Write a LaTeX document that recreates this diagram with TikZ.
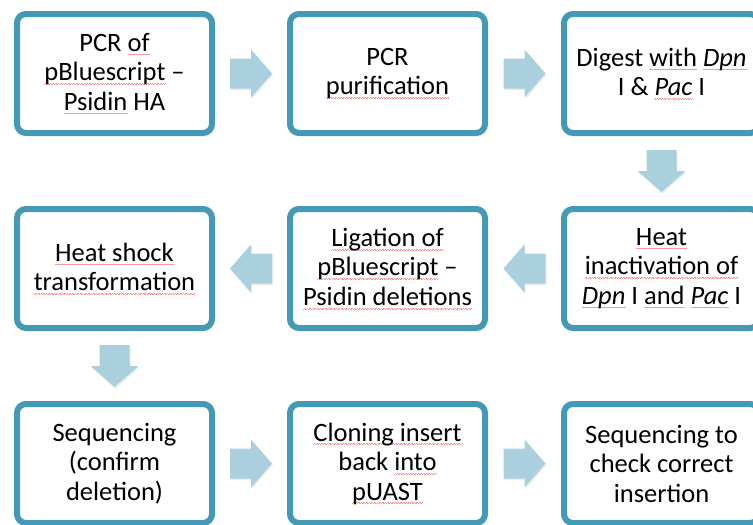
\documentclass[tikz,border=0pt]{standalone}
\usepackage{fontspec}
\setmainfont{Carlito}
\usetikzlibrary{shadows,calc}
\definecolor{boxline}{RGB}{68,153,180}
\definecolor{arrowfill}{RGB}{170,207,221}
\newcommand\spell[1]{\setbox0=\hbox{#1}%
	\rlap{\color{red!40}\hbox to \wd0{\xleaders\hbox{\rule[-3.5pt]{0.8pt}{0.4pt}\rule[-2.8pt]{0.8pt}{0.4pt}}\hfill}}\box0\relax}
\tikzset{
	stepbox/.style={draw=boxline, line width=6pt, rounded corners=9pt, fill=white,
		minimum width=195pt, minimum height=119pt, align=center,
		font=\fontsize{26.5}{29.5}\selectfont,
		drop shadow={shadow xshift=1.5pt, shadow yshift=-2.5pt, opacity=0.2}},
	blockarrow/.pic={\fill[arrowfill, drop shadow={shadow xshift=1pt, shadow yshift=-1.5pt, opacity=0.15}]
		(-21,-15) -- (0,-15) -- (0,-24) -- (21,0) -- (0,24) -- (0,15) -- (-21,15) -- cycle;}
}
\begin{document}
\begin{tikzpicture}[x=1pt,y=1pt]
	\useasboundingbox (0,0) rectangle (753,-525);
	\node[stepbox] (pcr) at (114.5,-73.5) {PCR \spell{of}\\\spell{pBluescript} --\\\spell{Psidin} HA};
	\node[stepbox] (pur) at (387.5,-73.5) {PCR\\\spell{purification}};
	\node[stepbox] (dig) at (661.5,-73.5) {Digest \spell{with} \spell{\emph{Dpn}}\\I \& \spell{\emph{Pac}} I};
	\node[stepbox] (heat) at (661.5,-268.5) {\spell{Heat}\\\spell{inactivation of}\\\spell{\emph{Dpn}} I \spell{and} \spell{\emph{Pac}} I};
	\node[stepbox] (lig) at (387.5,-268.5) {\spell{Ligation of}\\\spell{pBluescript} --\\\spell{Psidin deletions}};
	\node[stepbox] (shock) at (114.5,-268.5) {\spell{Heat shock}\\\spell{transformation}};
	\node[stepbox] (seq) at (114.5,-463.5) {Sequencing\\(confirm\\deletion)};
	\node[stepbox] (clone) at (387.5,-463.5) {\spell{Cloning insert}\\back \spell{into}\\\spell{pUAST}};
	\node[stepbox] (check) at (661.5,-463.5) {Sequencing to\\check correct\\insertion};
	\pic at ($(pcr.east)!0.5!(pur.west)$) {blockarrow};
	\pic at ($(pur.east)!0.5!(dig.west)$) {blockarrow};
	\pic[rotate=-90] at ($(dig.south)!0.5!(heat.north)$) {blockarrow};
	\pic[rotate=180] at ($(heat.west)!0.5!(lig.east)$) {blockarrow};
	\pic[rotate=180] at ($(lig.west)!0.5!(shock.east)$) {blockarrow};
	\pic[rotate=-90] at ($(shock.south)!0.5!(seq.north)$) {blockarrow};
	\pic at ($(seq.east)!0.5!(clone.west)$) {blockarrow};
	\pic at ($(clone.east)!0.5!(check.west)$) {blockarrow};
\end{tikzpicture}
\end{document}
